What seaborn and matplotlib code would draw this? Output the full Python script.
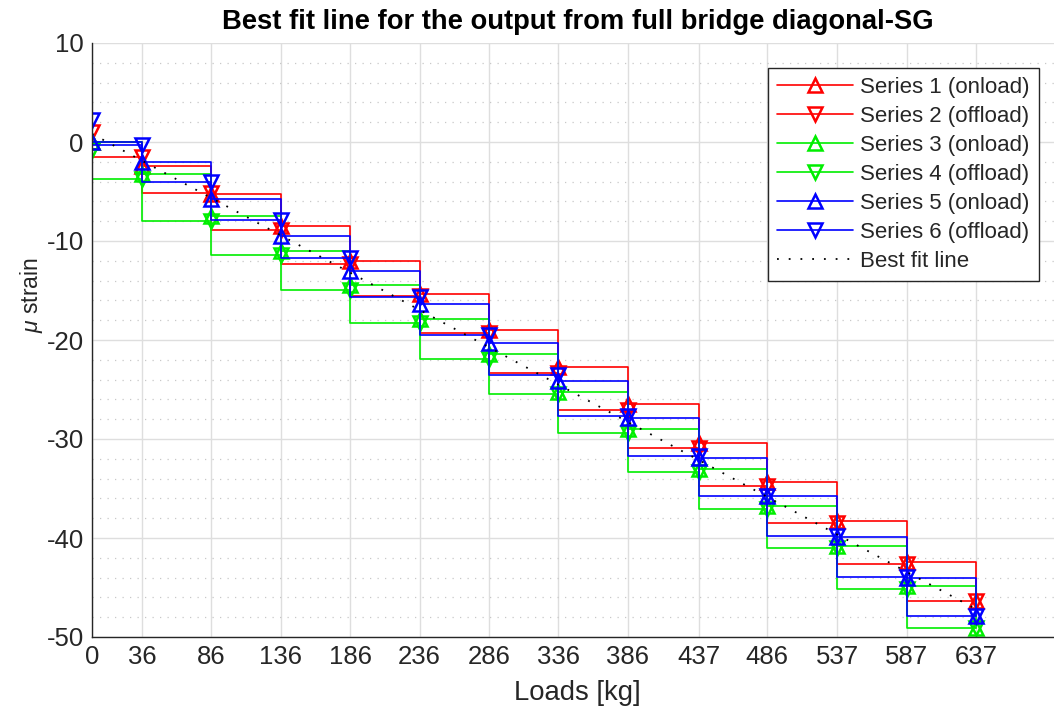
import numpy as np
import pandas as pd
import matplotlib
matplotlib.use("Agg")
import matplotlib.pyplot as plt
from matplotlib.ticker import MultipleLocator
import seaborn as sns

# Applied loads [kg]
loads = [0, 36, 86, 136, 186, 236, 286, 336, 386, 437, 486, 537, 587, 637]

# Strain readings (micro strain) for each loading / unloading run
s1_onload = [0, -2.4, -5.3, -8.45, -12.0, -15.4, -19.0, -22.7, -26.5, -30.4, -34.3, -38.3, -42.4, -46.4]
s2_offload = [1.0, -1.55, -5.2, -8.85, -12.35, -15.55, -19.3, -23.3, -27.1, -30.9, -34.75, -38.5, -42.6, -46.4]
s3_onload = [0, -3.25, -7.45, -11.0, -14.4, -17.9, -21.4, -25.3, -29.0, -33.0, -36.8, -40.8, -44.8, -49.1]
s4_offload = [-0.8, -3.7, -7.95, -11.45, -14.9, -18.3, -21.9, -25.5, -29.4, -33.3, -37.1, -41.0, -45.2, -49.1]
s5_onload = [0, -2.0, -5.75, -9.45, -13.0, -16.4, -20.3, -24.1, -27.85, -31.9, -35.75, -39.9, -44.0, -47.9]
s6_offload = [2.2, -0.3, -4.0, -7.9, -11.75, -15.7, -19.5, -23.5, -27.7, -31.7, -35.75, -39.8, -43.9, -47.9]

series_names = ["Series 1 (onload)", "Series 2 (offload)", "Series 3 (onload)",
                "Series 4 (offload)", "Series 5 (onload)", "Series 6 (offload)"]
series_values = [s1_onload, s2_offload, s3_onload, s4_offload, s5_onload, s6_offload]
series_colors = ["#ff0000", "#ff0000", "#00ee00", "#00ee00", "#0000ff", "#0000ff"]
fit_label = "Best fit line"

sns.set_style("white")
plt.rcParams["font.family"] = ["Liberation Sans", "DejaVu Sans"]
plt.rcParams["mathtext.fontset"] = "custom"
plt.rcParams["mathtext.it"] = "Liberation Sans:italic"
plt.rcParams["mathtext.rm"] = "Liberation Sans"
plt.rcParams["axes.unicode_minus"] = False
plt.rcParams["legend.numpoints"] = 1

fig = plt.figure(figsize=(10.54, 7.13), dpi=100)
# the axes run slightly past the right edge of the canvas
ax = fig.add_axes([92 / 1054, 76 / 713, 971.6 / 1054, 594 / 713])

for name, vals, col in zip(series_names, series_values, series_colors):
    df = pd.DataFrame({"load": loads, "strain": vals})
    onload = "onload" in name
    # loading runs step forward, unloading runs step back from the next load
    sns.lineplot(data=df, x="load", y="strain", ax=ax, estimator=None, errorbar=None,
                 sort=False, color=col, lw=1.2,
                 drawstyle="steps-post" if onload else "steps-pre",
                 marker="^" if onload else "v", ms=10.5, mfc="none", mec=col, mew=1.8,
                 label=name)

# least-squares line through every reading
all_x = np.tile(np.array(loads, dtype=float), len(series_values))
all_y = np.concatenate([np.array(v, dtype=float) for v in series_values])
slope, intercept = np.polyfit(all_x, all_y, 1)
fit_df = pd.DataFrame({"load": loads, "strain": slope * np.array(loads) + intercept})
sns.lineplot(data=fit_df, x="load", y="strain", ax=ax, estimator=None, errorbar=None,
             color="black", lw=1.3, dashes=False, label=fit_label)
ax.lines[-1].set_linestyle((0, (1, 5.5)))

ax.set_xlim(0, 700)
ax.set_ylim(-50, 10)
ax.set_xticks(loads)
ax.set_xticklabels([str(v) for v in loads])
ax.set_yticks(np.arange(-50, 11, 10))
ax.yaxis.set_minor_locator(MultipleLocator(2))

ax.grid(True, which="major", color="#dedede", lw=1.0)
ax.grid(True, which="minor", axis="y", color="#c8c8c8", lw=0.9, linestyle=(0, (1, 5)))
ax.set_axisbelow(True)

for side in ["top", "right"]:
    ax.spines[side].set_visible(False)
for side in ["left", "bottom"]:
    ax.spines[side].set_color("#262626")
    ax.spines[side].set_linewidth(1.0)

ax.tick_params(axis="both", which="major", direction="in", length=7, width=1.0,
               color="#262626", labelsize=18.5, labelcolor="#262626", pad=6)
ax.tick_params(axis="y", which="minor", direction="in", length=4, width=0.8, color="#262626")

ax.set_xlabel("Loads [kg]", fontsize=19.8, color="#262626", labelpad=8)
ax.set_ylabel(r"$\mu$ strain", fontsize=16.5, color="#262626")
ax.yaxis.set_label_coords(-0.048, 0.575)
ax.set_title("Best fit line for the output from full bridge diagonal-SG",
             fontsize=19.7, fontweight="bold", color="black", pad=10)

leg = ax.legend(loc="upper left", bbox_to_anchor=(0.696, 0.958), fontsize=16,
                frameon=True, fancybox=False, framealpha=1, edgecolor="#262626",
                handlelength=3.4, handletextpad=0.35, labelspacing=0.36,
                borderpad=0.4, borderaxespad=0)
leg.get_frame().set_linewidth(1.0)

fig.savefig("out.png", dpi=100)
